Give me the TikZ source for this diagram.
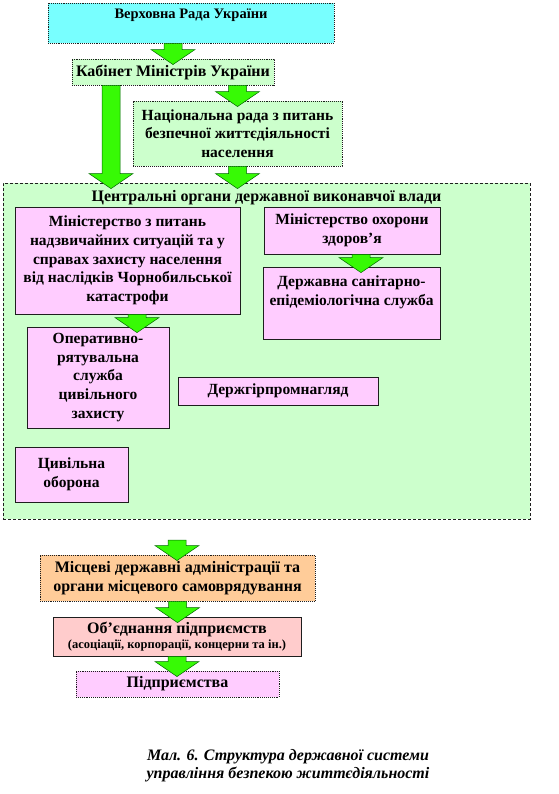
\documentclass[tikz,border=0pt]{standalone}
\usepackage{fontspec}
\setmainfont{Liberation Serif}
\usepackage{tikz}
\usetikzlibrary{calc,shadows}

\definecolor{vrcyan}{RGB}{120,255,255}
\definecolor{palegreen}{RGB}{204,255,204}
\definecolor{palepink}{RGB}{255,204,255}
\definecolor{paleorange}{RGB}{255,204,153}
\definecolor{palerose}{RGB}{255,204,204}
\definecolor{limegreen}{RGB}{55,250,5}
\definecolor{darkline}{RGB}{30,30,30}

\newcommand{\grarrow}[2]{%
  \draw[grarrow] let \p1=#1, \p2=($#2+(0,6)$) in
    (\x1-9pt,\y1) -- (\x1-9pt,\y2+15pt) -- (\x1-22pt,\y2+15pt) -- (\x1,\y2)
    -- (\x1+22pt,\y2+15pt) -- (\x1+9pt,\y2+15pt) -- (\x1+9pt,\y1) -- cycle;}

\begin{document}
\begin{tikzpicture}[x=1pt,y=-1pt,
  txt/.style={font=\bfseries\fontsize{15.5}{18.7}\selectfont,align=center,inner sep=0pt},
  bigtxt/.style={txt,font=\bfseries\fontsize{16}{18.5}\selectfont},
  dotbox/.style={draw=darkline,densely dotted,line width=0.9pt,inner sep=0pt},
  pinkbox/.style={draw=darkline,line width=0.8pt,fill=palepink,inner sep=0pt,
    drop shadow={shadow xshift=1.2pt,shadow yshift=-1.2pt,fill=black!45}},
  grarrow/.style={fill=limegreen,draw=green!40!black,line width=0.5pt}]
  \useasboundingbox (0,0) rectangle (558,794);

  \node[dotbox,fill=vrcyan,minimum width=286,minimum height=40] (vr) at (191,23) {};
  \node[txt,anchor=north,font=\bfseries\fontsize{14.5}{18}\selectfont] (vrt) at ($(vr.north)+(0,6)$) {Верховна Рада України};
  \node[dotbox,fill=palegreen,bigtxt,minimum width=202,minimum height=26] (km) at (173,72) {Кабінет Міністрів України};
  \node[dotbox,fill=palegreen,txt,minimum width=209,minimum height=65] (nr) at (237.5,133.5)
    {Національна рада з питань\\безпечної життєдіяльності\\населення};

  \node[draw=darkline,densely dashed,line width=0.8pt,fill=palegreen,minimum width=527,minimum height=336] (cov) at (266.5,351) {};
  \node[bigtxt,anchor=north] (covt) at ($(cov.north)+(0,8)$) {Центральні органи державної виконавчої влади};

  \node[pinkbox,txt,minimum width=225,minimum height=107] (mns) at (127.5,260.5)
    {Міністерство з питань\\надзвичайних ситуацій та у\\справах захисту населення\\від наслідків Чорнобильської\\катастрофи};
  \node[pinkbox,txt,minimum width=176,minimum height=47] (moz) at (352,230.5) {Міністерство охорони\\здоров’я};
  \node[pinkbox,minimum width=177,minimum height=72] (ses) at (351.5,303) {};
  \node[txt,anchor=north] (sest) at ($(ses.north)+(0,9)$) {Державна санітарно-\\епідеміологічна служба};
  \node[pinkbox,txt,minimum width=142,minimum height=101] (ors) at (98,377.5)
    {Оперативно-\\рятувальна\\служба\\цивільного\\захисту};
  \node[pinkbox,txt,minimum width=200,minimum height=28] (dgp) at (278,391) {Держгірпромнагляд};
  \node[pinkbox,txt,minimum width=113,minimum height=55] (cz) at (71.5,474.5) {Цивільна\\оборона};

  \node[dotbox,fill=paleorange,bigtxt,minimum width=275,minimum height=46] (mda) at (177.5,578)
    {Місцеві державні адміністрації та\\органи місцевого самоврядування};
  \node[draw=darkline,line width=0.8pt,fill=palerose,bigtxt,minimum width=248,minimum height=39] (ob) at (177,636.5)
    {Об’єднання підприємств\\[-3pt]{\fontsize{12.5}{14}\selectfont(асоціації, корпорації, концерни та ін.)}};
  \node[dotbox,fill=palepink,bigtxt,minimum width=203,minimum height=26] (pd) at (177.5,684) {Підприємства};

  \node[font=\bfseries\itshape\fontsize{16}{18}\selectfont,align=center] (cap) at (288,766)
    {Мал. 6. Структура державної системи\\управління безпекою життєдіяльності};

  \coordinate (lx) at (111,0);
  \coordinate (mx) at (137,0);
  \coordinate (hx) at (361,0);
  \coordinate (mtop) at (177,540);
  \grarrow{(vr.south -| km.north)}{(km.north)}
  \grarrow{(km.south -| lx)}{(cov.north)}
  \grarrow{(km.south -| nr.north)}{(nr.north)}
  \grarrow{(nr.south)}{(cov.north)}
  \grarrow{(moz.south -| hx)}{(ses.north)}
  \grarrow{(mns.south -| mx)}{(ors.north)}
  \grarrow{(mtop)}{(mda.north)}
  \grarrow{(mda.south)}{(ob.north)}
  \grarrow{(ob.south)}{(pd.north)}
\end{tikzpicture}
\end{document}
